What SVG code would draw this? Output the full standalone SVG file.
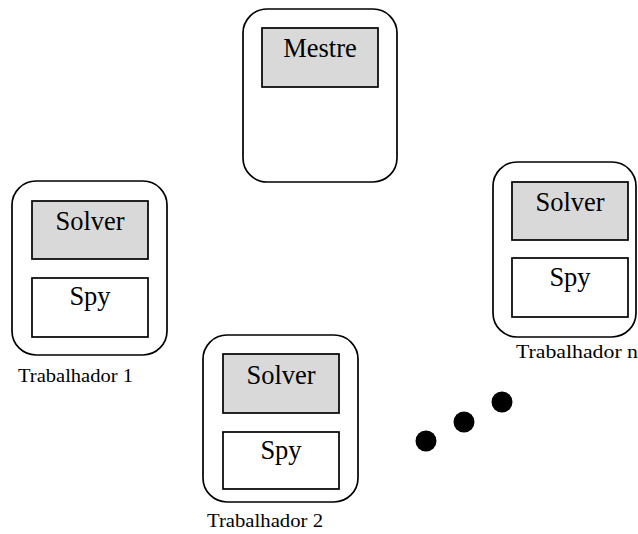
<svg xmlns="http://www.w3.org/2000/svg" width="638" height="534" viewBox="0 0 638 534">
  <style>
    .shell { fill: #ffffff; stroke: #000000; stroke-width: 1.7; }
    .solver { fill: #d9d9d9; stroke: #000000; stroke-width: 1.7; }
    .spy { fill: #ffffff; stroke: #000000; stroke-width: 1.7; }
    .big { font-family: "Liberation Serif", "Times New Roman", serif; font-size: 26.5px; fill: #000000; text-anchor: middle; }
    .label { font-family: "Liberation Serif", "Times New Roman", serif; font-size: 19.5px; fill: #000000; }
    .dot { fill: #000000; }
  </style>

  <!-- master process -->
  <g id="mestre">
    <rect class="shell" x="243" y="9" width="154" height="173" rx="24" ry="24"/>
    <rect class="solver" x="262" y="28" width="116" height="59"/>
    <text class="big" x="320" y="57">Mestre</text>
  </g>

  <!-- worker 1 -->
  <g id="trabalhador1">
    <rect class="shell" x="12" y="181" width="155" height="174" rx="24" ry="24"/>
    <rect class="solver" x="32" y="201" width="116" height="58"/>
    <text class="big" x="90" y="230">Solver</text>
    <rect class="spy" x="32" y="278" width="116" height="59"/>
    <text class="big" x="90" y="305">Spy</text>
    <text class="label" x="18" y="382" textLength="115" lengthAdjust="spacingAndGlyphs">Trabalhador 1</text>
  </g>

  <!-- worker 2 -->
  <g id="trabalhador2">
    <rect class="shell" x="203" y="335" width="155" height="167" rx="24" ry="24"/>
    <rect class="solver" x="223" y="354" width="116" height="59"/>
    <text class="big" x="281" y="384">Solver</text>
    <rect class="spy" x="223" y="432" width="116" height="57"/>
    <text class="big" x="281" y="459">Spy</text>
    <text class="label" x="207" y="527" textLength="116" lengthAdjust="spacingAndGlyphs">Trabalhador 2</text>
  </g>

  <!-- worker n -->
  <g id="trabalhadorN">
    <rect class="shell" x="493" y="162" width="143" height="175" rx="24" ry="24"/>
    <rect class="solver" x="512" y="182" width="116" height="58"/>
    <text class="big" x="570" y="211">Solver</text>
    <rect class="spy" x="512" y="258" width="116" height="59"/>
    <text class="big" x="570" y="286">Spy</text>
    <text class="label" x="516" y="358" textLength="122" lengthAdjust="spacingAndGlyphs">Trabalhador  n</text>
  </g>

  <!-- ellipsis for further workers -->
  <g id="reticencias">
    <circle class="dot" cx="426" cy="441" r="10.5"/>
    <circle class="dot" cx="464" cy="422" r="10.5"/>
    <circle class="dot" cx="502" cy="402" r="10.5"/>
  </g>

  <g id="connectors"/>
</svg>
